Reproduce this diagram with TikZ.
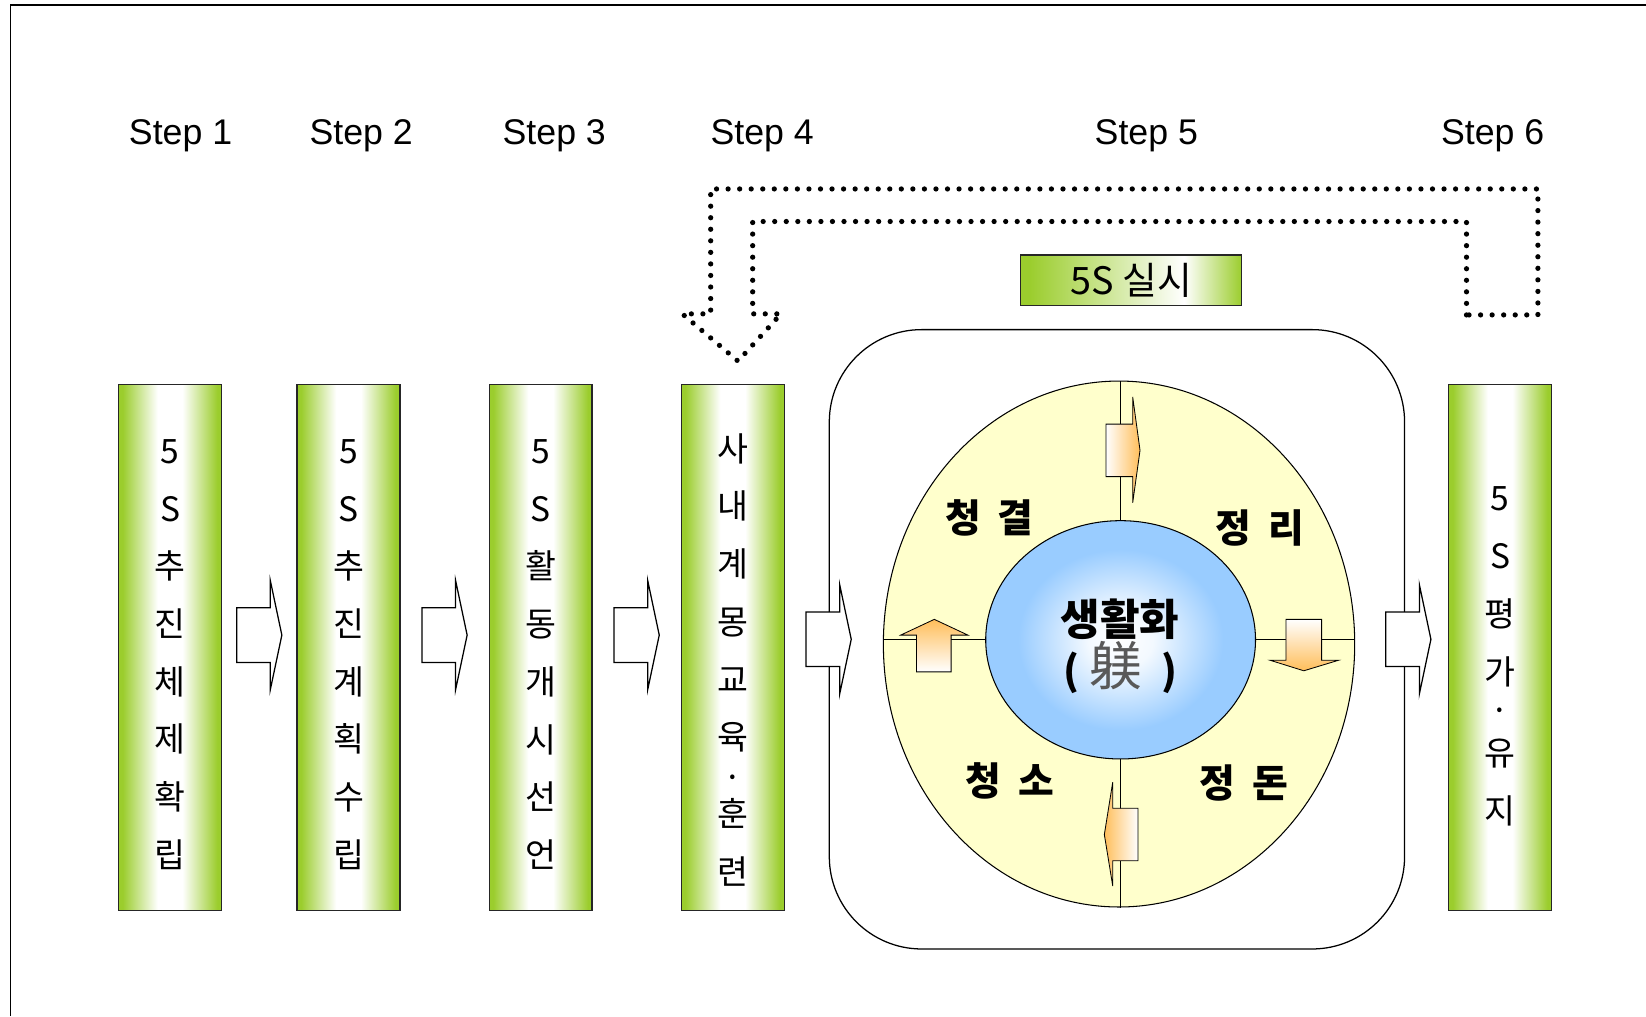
\documentclass[tikz,border=0pt]{standalone}
\usepackage{fontspec}
\setmainfont{Noto Sans CJK KR}
\newfontfamily\stepfont{Liberation Sans}
\usetikzlibrary{shapes.geometric,calc}

\definecolor{barGreen}{RGB}{155,205,45}
\definecolor{ringYellow}{RGB}{255,255,204}
\definecolor{coreBlue}{RGB}{153,204,255}
\definecolor{turnOrange}{RGB}{255,190,90}

\pgfdeclarehorizontalshading{stepbar}{100bp}{color(0bp)=(barGreen); color(27bp)=(barGreen); color(44bp)=(white); color(56bp)=(white); color(73bp)=(barGreen); color(100bp)=(barGreen)}
\pgfdeclarehorizontalshading{titlebar}{100bp}{color(0bp)=(barGreen); color(27bp)=(barGreen); color(62bp)=(white); color(75bp)=(barGreen); color(100bp)=(barGreen)}
\pgfdeclareradialshading{corelight}{\pgfpoint{0bp}{0bp}}{color(0bp)=(white); color(6bp)=(white!88!coreBlue); color(19bp)=(coreBlue); color(50bp)=(coreBlue)}

\newcommand{\widespace}{\hspace{16pt}}

\tikzset{
  stepbox/.style={draw=black!85, line width=1.2pt, shading=stepbar, minimum width=98, minimum height=501, inner sep=0},
  steptext/.style={align=center, font=\fontsize{32}{55}\selectfont},
  steplabel/.style={anchor=base, font=\stepfont\fontsize{34}{40}\selectfont},
  flowarrow/.pic={\draw[line width=1.2pt, fill=white] (-21.5,-26) -- (10.5,-26) -- (10.5,-52) -- (21.5,0) -- (10.5,52) -- (10.5,26) -- (-21.5,26) -- cycle;},
  turnarrow/.style={draw=black, line width=0.8pt},
  quadlabel/.style={font=\bfseries\fontsize{37}{44}\selectfont},
  loopline/.style={line width=5pt, line cap=round, dash pattern=on 0pt off 11pt}
}

\begin{document}
\begin{tikzpicture}[x=1pt, y=-1pt]
	\useasboundingbox (0,0) rectangle (1568,968);
	\draw[line width=1.5pt] (10,968) -- (10,5) -- (1568,5);

	% step titles
	\node[steplabel] (l1) at (172,138) {Step 1};
	\node[steplabel] (l2) at (344,138) {Step 2};
	\node[steplabel] (l3) at (528,138) {Step 3};
	\node[steplabel] (l4) at (726,138) {Step 4};
	\node[steplabel] (l5) at (1092,138) {Step 5};
	\node[steplabel] (l6) at (1422,138) {Step 6};

	% feedback loop from step 6 back to step 4
	\draw[loopline] (1397,300) -- (1397,211) -- (717,211) -- (717,299) -- (744,299) -- (703,344) -- (650,299) -- (677,299) -- (677,180) -- (1465,180) -- (1465,300) -- cycle;

	\node[draw=black!85, line width=1.2pt, shading=titlebar, minimum width=211, minimum height=48, inner sep=0, font=\fontsize{36}{40}\selectfont] (do) at (1077.5,267) {\raisebox{-3pt}{5S 실시}};

	% step 5 cycle
	\node[draw, line width=1.2pt, rounded corners=88pt, minimum width=548, minimum height=590] (doframe) at (1064,609) {};
	\node[ellipse, draw, line width=1pt, fill=ringYellow, minimum width=449, minimum height=501, inner sep=0] (ring) at (1066,613.5) {};
	\node[ellipse, draw, line width=1pt, shading=corelight, minimum width=257, minimum height=227, inner sep=0] (core) at (1067.5,609.5) {};
	\draw[line width=1pt] (core.north) -- (core.north |- ring.north);
	\draw[line width=1pt] (core.south) -- (core.south |- ring.south);
	\draw[line width=1pt] (core.west) -- (core.west -| ring.west);
	\draw[line width=1pt] (core.east) -- (core.east -| ring.east);

	\draw[turnarrow, left color=white, right color=turnOrange] (1053.5,404) -- (1079,404) -- (1079,378) -- (1086,429) -- (1079,479) -- (1079,454) -- (1053.5,454) -- cycle;
	\draw[turnarrow, top color=white, bottom color=turnOrange] (1225,590) -- (1259,590) -- (1259,629) -- (1275,629) -- (1242,639) -- (1210,629) -- (1225,629) -- cycle;
	\draw[turnarrow, left color=turnOrange, right color=white] (1084,770) -- (1084,820) -- (1060,820) -- (1060,844) -- (1052,795) -- (1060,745) -- (1060,770) -- cycle;
	\draw[turnarrow, top color=turnOrange, bottom color=white] (873,640) -- (873,605) -- (858,605) -- (890,590) -- (922,605) -- (906,605) -- (906,640) -- cycle;

	\node[quadlabel] (q1) at (942.5,493) {청\widespace 결};
	\node[quadlabel] (q2) at (1200,503) {정\widespace 리};
	\node[quadlabel] (q3) at (962,744) {청\widespace 소};
	\node[quadlabel] (q4) at (1185,746) {정\widespace 돈};
	\node[font=\bfseries\fontsize{41}{46}\selectfont] (c1) at (1067,589.5) {생활화};
	\node[font=\bfseries\fontsize{38}{46}\selectfont] (c2) at (1067,636) {(\hspace{10pt}{\mdseries\fontsize{50}{50}\selectfont\color{black!65}躾}\hspace{18pt})};

	% step boxes
	\node[stepbox] (s1) at (162,616.5) {};
	\node[stepbox] (s2) at (332,616.5) {};
	\node[stepbox] (s3) at (515,616.5) {};
	\node[stepbox] (s4) at (698,616.5) {};
	\node[stepbox] (s6) at (1429,616.5) {};
	\node[steptext] (t1) at ($(s1)+(0,7)$) {5\\S\\추\\진\\체\\제\\확\\립};
	\node[steptext] (t2) at ($(s2)+(0,7)$) {5\\S\\추\\진\\계\\획\\수\\립};
	\node[steptext] (t3) at ($(s3)+(0,7)$) {5\\S\\활\\동\\개\\시\\선\\언};
	\node[steptext] (t4) at ($(s4)+(0,12)$) {사\\내\\계\\몽\\교\\육\\[-17pt]·\\[-20pt]훈\\련};
	\node[steptext] (t6) at ($(s6)+(0,9)$) {5\\S\\평\\가\\[-18pt]·\\[-14pt]유\\지};

	% flow arrows
	\foreach \a/\b in {s1/s2, s2/s3, s3/s4}
		\pic at ($(\a)!0.5!(\b)+(0,-11.5)$) {flowarrow};
	\pic at (doframe.west) {flowarrow};
	\pic at ($(doframe.east)+(3,0)$) {flowarrow};
\end{tikzpicture}
\end{document}
